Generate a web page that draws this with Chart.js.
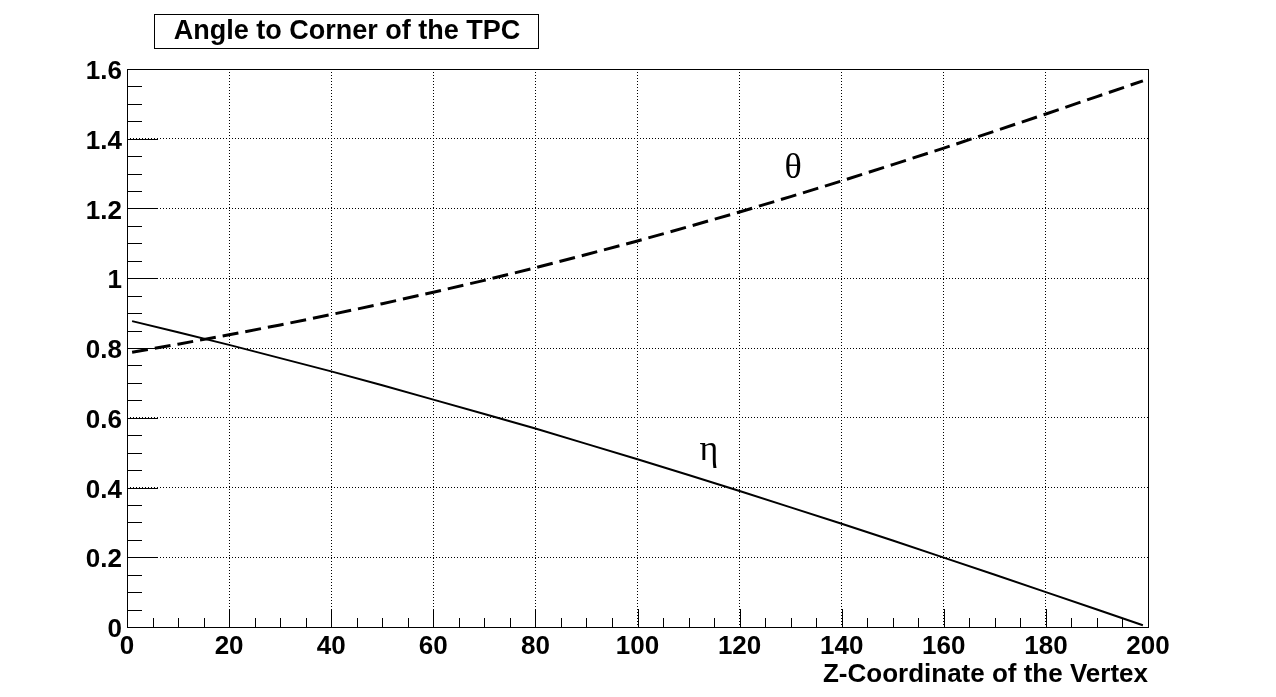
<!DOCTYPE html>
<html>
<head>
<meta charset="utf-8">
<script src="https://cdn.jsdelivr.net/npm/chart.js@4/dist/chart.umd.min.js"></script>
<style>
  html, body { margin: 0; padding: 0; background: #fff; }
  #wrap { width: 1276px; height: 697px; position: relative; }
</style>
</head>
<body>
<div id="wrap"><canvas id="grafico"></canvas></div>
<script>
// dados (z do vértice, ângulos)
const zVertice = [1, 10, 20, 30, 40, 50, 60, 70, 80, 90, 100, 110, 120, 130, 140, 150, 160, 170, 180, 190, 199];
const theta = [0.788, 0.811, 0.838, 0.866, 0.896, 0.927, 0.960, 0.994, 1.030, 1.068, 1.107, 1.148, 1.190, 1.234, 1.279, 1.326, 1.373, 1.422, 1.471, 1.521, 1.566];
const eta = [0.877, 0.845, 0.809, 0.771, 0.733, 0.693, 0.652, 0.611, 0.569, 0.525, 0.481, 0.436, 0.390, 0.343, 0.296, 0.248, 0.199, 0.150, 0.100, 0.050, 0.005];

const titulo = 'Angle to Corner of the TPC';
const tituloEixoX = 'Z-Coordinate of the Vertex';

const FONTE = "'Liberation Sans', Arial, Helvetica, sans-serif";
const FONTE_SERIF = "'Liberation Serif', 'Times New Roman', serif";

Chart.defaults.font.family = FONTE;
Chart.defaults.color = '#000';
Chart.defaults.animation = false;

const pontos = (ys) => zVertice.map((z, i) => ({ x: z, y: ys[i] }));

// moldura, marcas de escala, título e rótulos gregos (estilo ROOT)
const estiloRoot = {
    id: 'estiloRoot',
    afterDraw(chart) {
        const { ctx, chartArea: a, scales } = chart;
        const sx = scales.x, sy = scales.y;
        ctx.save();
        ctx.strokeStyle = '#000';
        ctx.lineWidth = 1;

        // marcas do eixo x
        for (let v = 0; v <= 200; v += 5) {
            const px = Math.round(sx.getPixelForValue(v)) + 0.5;
            const len = v % 20 === 0 ? 18 : 9;
            ctx.beginPath();
            ctx.moveTo(px, a.bottom);
            ctx.lineTo(px, a.bottom - len);
            ctx.stroke();
        }
        // marcas do eixo y
        for (let k = 0; k <= 32; k++) {
            const py = Math.round(sy.getPixelForValue(k * 0.05)) + 0.5;
            const len = k % 4 === 0 ? 31 : 15;
            ctx.beginPath();
            ctx.moveTo(a.left, py);
            ctx.lineTo(a.left + len, py);
            ctx.stroke();
        }
        // moldura
        ctx.strokeRect(Math.round(a.left) + 0.5, Math.round(a.top) + 0.5,
            Math.round(a.right - a.left), Math.round(a.bottom - a.top));

        // caixa do título
        ctx.fillStyle = '#fff';
        ctx.fillRect(154, 14, 384, 34);
        ctx.strokeRect(154.5, 14.5, 384, 34);
        ctx.fillStyle = '#000';
        ctx.font = `bold 27px ${FONTE}`;
        ctx.textAlign = 'center';
        ctx.textBaseline = 'middle';
        ctx.fillText(titulo, 347, 32);

        // título do eixo x
        ctx.font = `bold 26px ${FONTE}`;
        ctx.textAlign = 'right';
        ctx.fillText(tituloEixoX, a.right, 675);

        // rótulos das curvas
        ctx.font = `36px ${FONTE_SERIF}`;
        ctx.textAlign = 'center';
        ctx.fillText('\u03B8', sx.getPixelForValue(130.5), sy.getPixelForValue(1.315));
        ctx.fillText('\u03B7', sx.getPixelForValue(114), sy.getPixelForValue(0.505));
        ctx.restore();
    },
};

new Chart(document.getElementById('grafico'), {
    type: 'line',
    data: {
        datasets: [
            {
                label: 'theta',
                data: pontos(theta),
                borderColor: '#000',
                borderWidth: 3,
                borderDash: [16, 7],
                pointRadius: 0,
                tension: 0,
                fill: false,
            },
            {
                label: 'eta',
                data: pontos(eta),
                borderColor: '#000',
                borderWidth: 2,
                pointRadius: 0,
                tension: 0,
                fill: false,
            },
        ],
    },
    options: {
        responsive: true,
        maintainAspectRatio: false,
        layout: { padding: { left: 0, right: 128, top: 69, bottom: 0 } },
        plugins: {
            legend: { display: false },
            tooltip: { enabled: false },
            title: { display: false },
        },
        scales: {
            x: {
                type: 'linear',
                min: 0,
                max: 200,
                afterFit: (s) => { s.height = 70; },
                afterBuildTicks: (s) => {
                    s.ticks = [0, 20, 40, 60, 80, 100, 120, 140, 160, 180, 200].map(v => ({ value: v }));
                },
                ticks: {
                    padding: 4,
                    maxRotation: 0,
                    autoSkip: false,
                    font: { size: 26, weight: 'bold' },
                    color: '#000',
                },
                grid: { color: '#000', lineWidth: 1, drawTicks: false },
                border: { display: false, dash: [1, 2] },
            },
            y: {
                type: 'linear',
                min: 0,
                max: 1.6,
                afterFit: (s) => { s.width = 127; },
                afterBuildTicks: (s) => {
                    s.ticks = [0, 0.2, 0.4, 0.6, 0.8, 1, 1.2, 1.4, 1.6].map(v => ({ value: v }));
                },
                ticks: {
                    padding: 5,
                    labelOffset: 3,
                    autoSkip: false,
                    font: { size: 26, weight: 'bold' },
                    color: '#000',
                    callback: (v) => String(Number(v.toFixed(1))),
                },
                grid: { color: '#000', lineWidth: 1, drawTicks: false },
                border: { display: false, dash: [1, 2] },
            },
        },
    },
    plugins: [estiloRoot],
});
</script>
</body>
</html>
